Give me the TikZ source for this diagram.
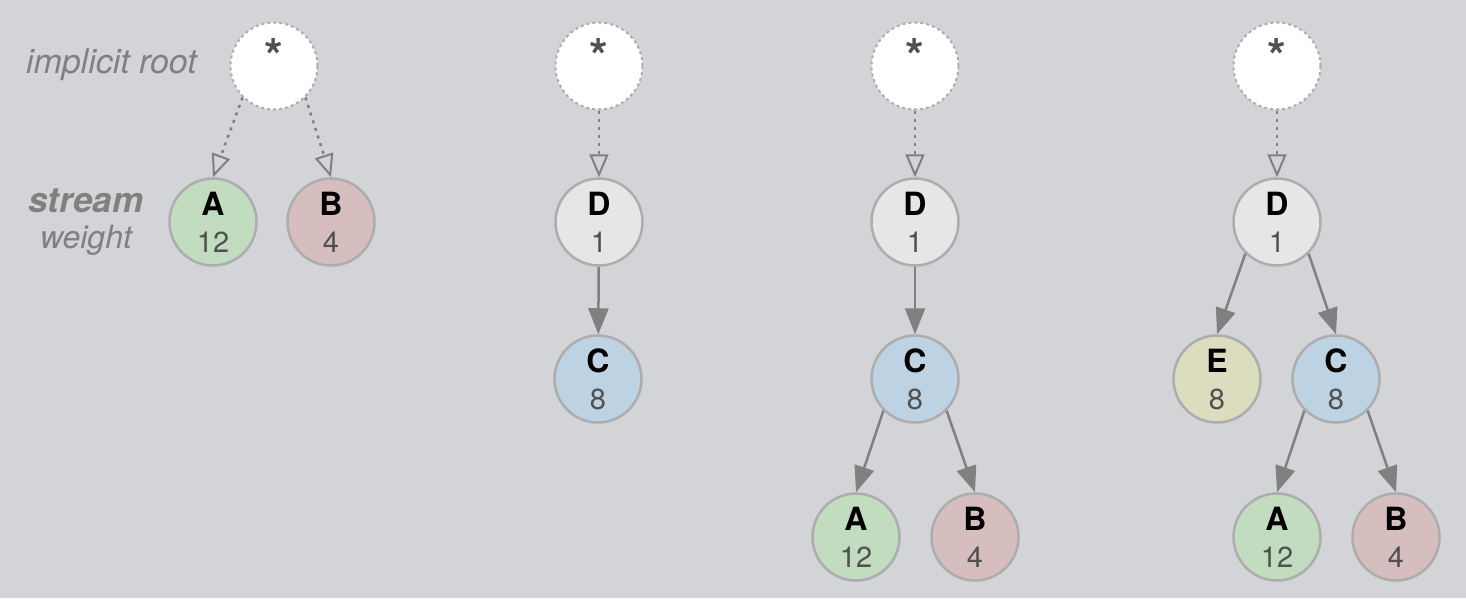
\documentclass[tikz,border=0pt]{standalone}
\usepackage{fontspec}
\setmainfont{TeX Gyre Heros}
\usetikzlibrary{arrows.meta,calc}
\definecolor{bg}{HTML}{D3D4D8}
\definecolor{cA}{HTML}{C2DCBF}
\definecolor{cB}{HTML}{D6BEBF}
\definecolor{cC}{HTML}{BDD2E2}
\definecolor{cD}{HTML}{E6E6E6}
\definecolor{cE}{HTML}{DCDCBF}
\definecolor{bordc}{HTML}{ADADAD}
\definecolor{arrc}{HTML}{808080}
\definecolor{numc}{HTML}{505050}
\definecolor{labc}{HTML}{808080}
\newcommand{\snd}[5]{%
  \node[snode, fill=#3] (#1) at (#2) {};
  \node[ltr] (#1l) at ($(#1)+(0,-7)$) {#4};
  \node[num] (#1n) at ($(#1)+(0,30)$) {#5};}
\newcommand{\rnd}[2]{%
  \node[rootnode] (#1) at (#2) {};
  \node[startxt] (#1s) at ($(#1)+(0,-10)$) {*};}
\begin{document}
\begin{tikzpicture}[x=1pt,y=-1pt,
  snode/.style={circle, draw=bordc, line width=2.5pt, minimum size=87pt, inner sep=0pt},
  rootnode/.style={circle, draw=bordc, fill=white, dash pattern=on 3pt off 3pt, line width=2pt, minimum size=87pt, inner sep=0pt},
  ltr/.style={anchor=base, inner sep=0pt, text=black, font=\fontsize{32}{32}\selectfont\bfseries},
  num/.style={anchor=base, inner sep=0pt, text=numc, font=\fontsize{29}{29}\selectfont},
  startxt/.style={anchor=center, inner sep=0pt, text=numc, font=\fontsize{48}{48}\selectfont\bfseries},
  lab/.style={inner sep=0pt, text=labc, font=\fontsize{34}{34}\selectfont\itshape},
  sedge/.style={draw=arrc, line width=2.5pt, -{Triangle[length=26pt,width=20pt]}},
  redge/.style={draw=arrc, line width=2.5pt, dash pattern=on 3pt off 5pt, -{Triangle[open,length=23pt,width=19pt,line width=2pt]}}]
\fill[bg] (0,0) rectangle (1466,598);
\useasboundingbox (0,0) rectangle (1466,598);
% labels
\node[lab, anchor=base east] (limp) at (197,73) {implicit root};
\node[lab, anchor=base, font=\fontsize{35}{35}\selectfont\bfseries\itshape] (lstr) at (86,212) {stream};
\node[lab, anchor=base, font=\fontsize{32}{32}\selectfont\itshape] (lwei) at (86,248) {weight};
% panel 1
\rnd{r1}{274,66}
\snd{a1}{213,222}{cA}{A}{12}
\snd{b1}{331,222}{cB}{B}{4}
\draw[redge] (r1.-135) -- (a1.north);
\draw[redge] (r1.-45) -- (b1.north);
% panel 2
\rnd{r2}{599,66}
\snd{d2}{599,222}{cD}{D}{1}
\snd{c2}{598,379}{cC}{C}{8}
\draw[redge] (r2) -- (d2);
\draw[sedge] (d2) -- (c2);
% panel 3
\rnd{r3}{915,66}
\snd{d3}{915,222}{cD}{D}{1}
\snd{c3}{915,379}{cC}{C}{8}
\snd{a3}{856,537}{cA}{A}{12}
\snd{b3}{975,537}{cB}{B}{4}
\draw[redge] (r3) -- (d3);
\draw[sedge] (d3) -- (c3);
\draw[sedge] (c3.-135) -- (a3.north);
\draw[sedge] (c3.-45) -- (b3.north);
% panel 4
\rnd{r4}{1277,66}
\snd{d4}{1277,222}{cD}{D}{1}
\snd{e4}{1217,379}{cE}{E}{8}
\snd{c4}{1336,379}{cC}{C}{8}
\snd{a4}{1277,537}{cA}{A}{12}
\snd{b4}{1396,537}{cB}{B}{4}
\draw[redge] (r4) -- (d4);
\draw[sedge] (d4.-135) -- (e4.north);
\draw[sedge] (d4.-45) -- (c4.north);
\draw[sedge] (c4.-135) -- (a4.north);
\draw[sedge] (c4.-45) -- (b4.north);
\end{tikzpicture}
\end{document}
